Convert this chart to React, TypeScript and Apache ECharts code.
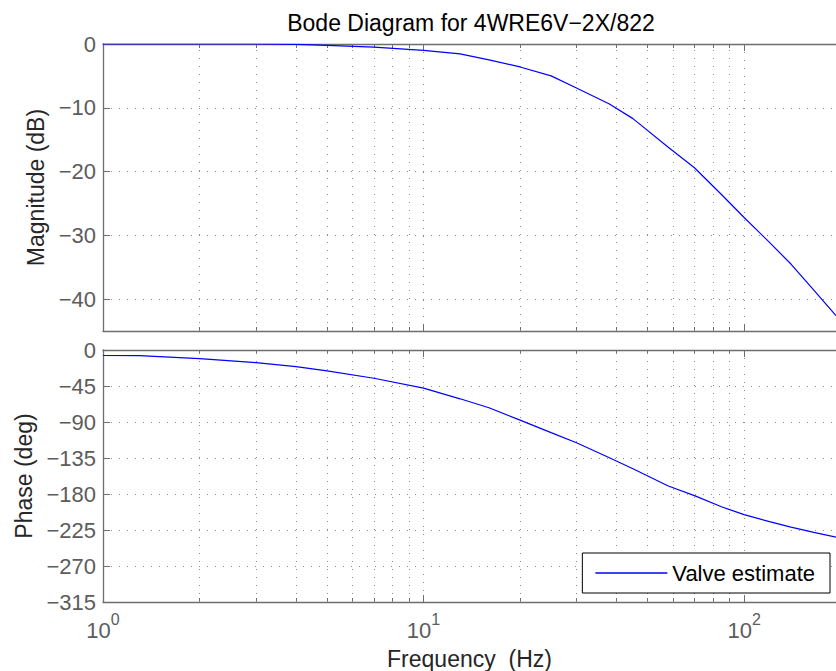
import React, { useEffect, useRef } from 'react';
import * as echarts from 'echarts';

// ---- data ----
const FREQ_HZ = [1, 1.3, 2, 3, 4, 5, 7, 10, 13, 16, 20, 25, 30, 38, 45, 58, 70, 85, 100, 120, 140, 165, 193.5];
const MAG_DB = [0, 0, 0, 0, -0.05, -0.2, -0.5, -1.0, -1.55, -2.5, -3.6, -5.0, -6.9, -9.4, -11.7, -16.2, -19.4, -23.6, -27.2, -31.1, -34.5, -38.6, -42.6];
const PHASE_DEG = [-6.9, -7.0, -10.8, -15.9, -20.7, -26.1, -35.3, -47.7, -61, -72.2, -87.7, -103.3, -116, -134.7, -148.4, -170, -182, -196, -205.7, -214.5, -221.5, -228, -233.8];
const MINOR_X = [2, 3, 4, 5, 6, 7, 8, 9, 20, 30, 40, 50, 60, 70, 80, 90];
const X_MIN = 1;
const X_MAX = 193.5;
const MAG_MIN = -45;
const MAG_MAX = 0;
const PHASE_MIN = -315;
const PHASE_MAX = 0;
const PHASE_STEP = 45;
const TITLE = 'Bode Diagram for 4WRE6V\u22122X/822';
const SERIES_NAME = 'Valve estimate';
const X_NAME = 'Frequency  (Hz)';
const MAG_NAME = 'Magnitude (dB)';
const PHASE_NAME = 'Phase (deg)';

const FONT = '"Liberation Sans", Arial, Helvetica, sans-serif';
const AXIS_COLOR = '#6e6e6e';
const TICK_LABEL_COLOR = '#5c5c5c';
const NAME_COLOR = '#262626';
const GRID_LINE = { type: [1, 7], color: '#8c8c8c', width: 1 };
const LINE_COLOR = '#0000ff';

const fmtY = (v: number) => String(v).replace('-', '\u2212');
const fmtX = (v: number) => {
  const e = Math.round(Math.log10(v));
  if (Math.abs(Math.pow(10, e) - v) > 1e-6 * v) return '';
  return '{b|10}{s|' + e + '}';
};

function xAxesFor(gridIndex: number, withLabels: boolean) {
  const common = { type: 'log', logBase: 10, gridIndex, min: X_MIN, max: X_MAX };
  const majorTick = { show: true, inside: true, length: 7, lineStyle: { color: AXIS_COLOR, width: 1 } };
  const minorTick = { show: true, inside: true, length: 4, customValues: MINOR_X, lineStyle: { color: AXIS_COLOR, width: 1 } };
  const bottomMain: any = {
    ...common,
    position: 'bottom',
    axisLine: { show: true, onZero: false, lineStyle: { color: AXIS_COLOR, width: 1.3 } },
    axisTick: majorTick,
    splitLine: { show: true, lineStyle: GRID_LINE },
    axisLabel: withLabels
      ? {
          show: true,
          margin: 9,
          showMaxLabel: false,
          formatter: fmtX,
          rich: {
            b: { fontSize: 22, color: TICK_LABEL_COLOR, fontFamily: FONT, lineHeight: 30, verticalAlign: 'bottom' },
            s: { fontSize: 16, color: TICK_LABEL_COLOR, fontFamily: FONT, lineHeight: 30, verticalAlign: 'top' },
          },
        }
      : { show: false },
  };
  if (withLabels) {
    bottomMain.name = X_NAME;
    bottomMain.nameLocation = 'middle';
    bottomMain.nameGap = 45;
    bottomMain.nameTextStyle = { fontSize: 23, color: NAME_COLOR, fontFamily: FONT };
  }
  const bottomMinor = {
    ...common,
    position: 'bottom',
    axisLine: { show: false, onZero: false },
    axisTick: minorTick,
    axisLabel: { show: false },
    splitLine: { show: false },
  };
  const topMain = {
    ...common,
    position: 'top',
    axisLine: { show: true, onZero: false, lineStyle: { color: AXIS_COLOR, width: 1.3 } },
    axisTick: majorTick,
    axisLabel: { show: false },
    splitLine: { show: false },
  };
  const topMinor = {
    ...common,
    position: 'top',
    axisLine: { show: false, onZero: false },
    axisTick: minorTick,
    axisLabel: { show: false },
    splitLine: { show: false },
  };
  return [bottomMain, bottomMinor, topMain, topMinor];
}

const minorGridMarkLine = {
  silent: true,
  z: 1,
  symbol: ['none', 'none'],
  label: { show: false },
  lineStyle: GRID_LINE,
  emphasis: { disabled: true },
  data: MINOR_X.map((v) => ({ xAxis: v })),
};

export default function App() {
  const ref = useRef<HTMLDivElement>(null);
  useEffect(() => {
    if (!ref.current) return;
    const chart = echarts.init(ref.current, null, { renderer: 'svg' });
    const option: any = {
      animation: false,
      backgroundColor: '#ffffff',
      title: {
        text: TITLE,
        left: 471,
        top: 11,
        textAlign: 'center',
        padding: 0,
        textStyle: { fontSize: 23, fontWeight: 'normal', color: '#000', fontFamily: FONT },
      },
      legend: {
        data: [SERIES_NAME],
        right: 6,
        bottom: 78,
        backgroundColor: '#fff',
        borderColor: '#000',
        borderWidth: 1,
        borderRadius: 0,
        padding: [9, 15, 9, 13],
        icon: 'rect',
        itemWidth: 72,
        itemHeight: 1.5,
        itemStyle: { color: LINE_COLOR },
        textStyle: { fontSize: 22, color: '#000', fontFamily: FONT },
      },
      grid: [
        { left: 103, top: 44, width: 734, height: 287, containLabel: false },
        { left: 103, top: 350, width: 734, height: 254, containLabel: false },
      ],
      xAxis: [...xAxesFor(0, false), ...xAxesFor(1, true)],
      yAxis: [
        {
          type: 'value',
          gridIndex: 0,
          min: MAG_MIN,
          max: MAG_MAX,
          position: 'left',
          axisLine: { show: true, onZero: false, lineStyle: { color: AXIS_COLOR, width: 1.3 } },
          axisTick: { show: true, inside: true, length: 7, lineStyle: { color: AXIS_COLOR } },
          axisLabel: { margin: 7, fontSize: 22, color: TICK_LABEL_COLOR, fontFamily: FONT, formatter: fmtY, showMinLabel: false },
          splitLine: { show: true, lineStyle: GRID_LINE },
          name: MAG_NAME,
          nameLocation: 'middle',
          nameGap: 55,
          nameTextStyle: { fontSize: 23, color: NAME_COLOR, fontFamily: FONT },
        },
        {
          type: 'value',
          gridIndex: 1,
          min: PHASE_MIN,
          max: PHASE_MAX,
          interval: PHASE_STEP,
          position: 'left',
          axisLine: { show: true, onZero: false, lineStyle: { color: AXIS_COLOR, width: 1.3 } },
          axisTick: { show: true, inside: true, length: 7, lineStyle: { color: AXIS_COLOR } },
          axisLabel: { margin: 7, fontSize: 22, color: TICK_LABEL_COLOR, fontFamily: FONT, formatter: fmtY },
          splitLine: { show: true, lineStyle: GRID_LINE },
          name: PHASE_NAME,
          nameLocation: 'middle',
          nameGap: 68,
          nameTextStyle: { fontSize: 23, color: NAME_COLOR, fontFamily: FONT },
        },
      ],
      series: [
        {
          type: 'line',
          name: SERIES_NAME,
          xAxisIndex: 0,
          yAxisIndex: 0,
          data: FREQ_HZ.map((f, i) => [f, MAG_DB[i]]),
          symbol: 'none',
          z: 3,
          lineStyle: { color: LINE_COLOR, width: 1.2 },
          itemStyle: { color: LINE_COLOR },
          markLine: minorGridMarkLine,
        },
        {
          type: 'line',
          name: SERIES_NAME,
          xAxisIndex: 4,
          yAxisIndex: 1,
          data: FREQ_HZ.map((f, i) => [f, PHASE_DEG[i]]),
          symbol: 'none',
          z: 3,
          lineStyle: { color: LINE_COLOR, width: 1.2 },
          itemStyle: { color: LINE_COLOR },
          markLine: minorGridMarkLine,
        },
      ],
    };
    chart.setOption(option);
    return () => chart.dispose();
  }, []);
  return (
    <div
      ref={ref}
      style={{ position: 'fixed', left: 0, top: 0, width: 836, height: 671, background: '#fff' }}
    />
  );
}
